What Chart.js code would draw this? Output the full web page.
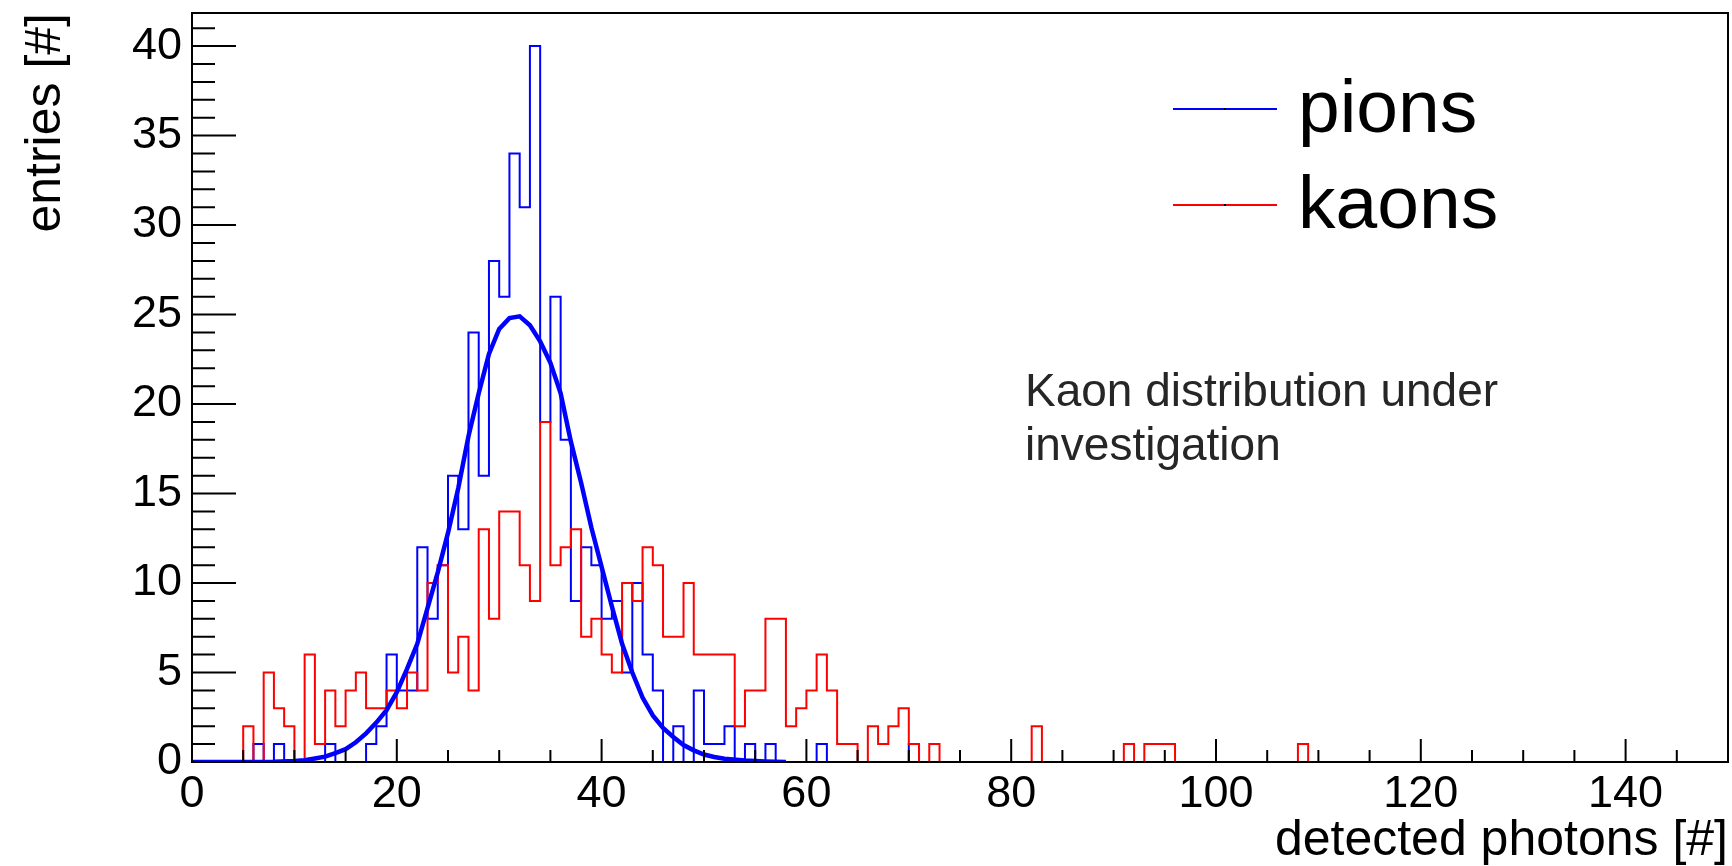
<!DOCTYPE html>
<html>
<head>
<meta charset="utf-8">
<script src="https://cdn.jsdelivr.net/npm/chart.js@4.4.1/dist/chart.umd.min.js"></script>
<style>
    html, body { margin: 0; padding: 0; background: #fff; }
    canvas { display: block; }
</style>
</head>
<body>
<canvas id="chart" width="1732" height="866"></canvas>
<script>
// histogram binning: 1 photon per bin, starting at 0
const binStart = 0;
const binWidth = 1;

// pions, bins 0..73
const pionCounts = [
    0, 0, 0, 0, 0, 0, 1, 0, 1, 0,
    0, 0, 0, 1, 0, 0, 0, 1, 2, 6,
    4, 4, 12, 8, 11, 16, 13, 24, 16, 28,
    26, 34, 31, 40, 19, 26, 18, 9, 12, 11,
    8, 9, 5, 10, 6, 4, 0, 2, 0, 4,
    1, 1, 2, 0, 1, 0, 1, 0, 0, 0,
    0, 1, 0, 0, 0, 0, 0, 0, 0, 0,
    1, 0, 0, 0
];

// kaons, bins 0..149
const kaonCounts = [
    0, 0, 0, 0, 0, 2, 0, 5, 3, 2,
    0, 6, 1, 4, 2, 4, 5, 3, 3, 4,
    3, 5, 4, 10, 11, 5, 7, 4, 13, 8,
    14, 14, 11, 9, 19, 11, 12, 13, 7, 8,
    6, 5, 10, 9, 12, 11, 7, 7, 10, 6,
    6, 6, 6, 2, 4, 4, 8, 8, 2, 3,
    4, 6, 4, 1, 1, 0, 2, 1, 2, 3,
    1, 0, 1, 0, 0, 0, 0, 0, 0, 0,
    0, 0, 2, 0, 0, 0, 0, 0, 0, 0,
    0, 1, 0, 1, 1, 1, 0, 0, 0, 0,
    0, 0, 0, 0, 0, 0, 0, 0, 1, 0,
    0, 0, 0, 0, 0, 0, 0, 0, 0, 0,
    0, 0, 0, 0, 0, 0, 0, 0, 0, 0,
    0, 0, 0, 0, 0, 0, 0, 0, 0, 0,
    0, 0, 0, 0, 0, 0, 0, 0, 0, 0
];

// gaussian fit on pions
const fitX = [0, 5, 8, 10, 11, 12, 13, 14, 15, 16, 17, 18, 19, 20, 21, 22, 23, 24, 25, 26, 27, 28, 29,
    30, 31, 32, 33, 34, 35, 36, 37, 38, 39, 40, 41, 42, 43, 44, 45, 46, 47, 48, 49, 50, 51, 52, 54, 56, 58];
const fitY = [0, 0, 0.02, 0.06, 0.1, 0.2, 0.3, 0.5, 0.72, 1.1, 1.6, 2.2, 2.9, 3.9, 5.2, 6.6, 8.6, 10.6, 12.8, 15.3, 18.2, 20.6, 22.8,
    24.2, 24.8, 24.9, 24.4, 23.5, 22.3, 20.6, 17.9, 15.6, 13.1, 10.9, 8.7, 6.6, 5.0, 3.6, 2.6, 1.9, 1.4, 0.95, 0.65, 0.42, 0.28, 0.18, 0.08, 0.03, 0];

const seriesNames = ["pions", "kaons"];
const xTickValues = [0, 20, 40, 60, 80, 100, 120, 140];
const yTickValues = [0, 5, 10, 15, 20, 25, 30, 35, 40];

const xMax = 150;
const yMax = 41.85;

const font = "'Liberation Sans', Arial, Helvetica, sans-serif";

// bin counts -> points for a stepped line (low edge of each bin + closing edge)
function histPoints(counts) {
    let pts = counts.map((c, i) => ({ x: binStart + i * binWidth, y: c }));
    pts.push({ x: binStart + counts.length * binWidth, y: counts[counts.length - 1] });
    return pts;
}

// ROOT style frame, inner ticks, legend and the note
const rootFrame = {
    id: 'rootFrame',
    afterDatasetsDraw(chart) {
        const { ctx, chartArea: a, scales: { x, y } } = chart;
        ctx.save();
        ctx.strokeStyle = '#000';
        ctx.lineWidth = 2;
        ctx.strokeRect(a.left, a.top, a.right - a.left, a.bottom - a.top);

        ctx.beginPath();
        for (let v = 0; v < xMax; v += 5) {
            let px = x.getPixelForValue(v);
            let len = v % 20 === 0 ? 23 : 12;
            ctx.moveTo(px, a.bottom);
            ctx.lineTo(px, a.bottom - len);
        }
        for (let v = 0; v <= Math.floor(yMax); v++) {
            let py = y.getPixelForValue(v);
            let len = v % 5 === 0 ? 44 : 23;
            ctx.moveTo(a.left, py);
            ctx.lineTo(a.left + len, py);
        }
        ctx.stroke();

        // legend
        const legendColors = ['#0000ff', '#ff0000'];
        const legendY = [109, 205];
        ctx.font = '75px ' + font;
        ctx.textBaseline = 'alphabetic';
        seriesNames.forEach((name, i) => {
            ctx.strokeStyle = legendColors[i];
            ctx.lineWidth = 2;
            ctx.beginPath();
            ctx.moveTo(1173, legendY[i]);
            ctx.lineTo(1277, legendY[i]);
            ctx.stroke();
            ctx.fillStyle = '#000';
            ctx.fillRect(1224, legendY[i] - 1, 2, 2);
            ctx.fillText(name, 1298, legendY[i] + 23);
        });

        // annotation
        ctx.fillStyle = '#262626';
        ctx.font = '46px ' + font;
        ctx.fillText('Kaon distribution under', 1025, 406);
        ctx.fillText('investigation', 1025, 460);
        ctx.restore();
    }
};

new Chart(document.getElementById('chart'), {
    type: 'line',
    data: {
        datasets: [
            {
                label: 'fit',
                data: fitX.map((v, i) => ({ x: v, y: fitY[i] })),
                borderColor: '#0000ff',
                borderWidth: 4.5,
                pointRadius: 0,
                order: 0
            },
            {
                label: seriesNames[1],
                data: histPoints(kaonCounts),
                stepped: 'before',
                borderColor: '#ff0000',
                borderWidth: 2,
                pointRadius: 0,
                order: 1
            },
            {
                label: seriesNames[0],
                data: histPoints(pionCounts),
                stepped: 'before',
                borderColor: '#0000ff',
                borderWidth: 2,
                pointRadius: 0,
                order: 2
            }
        ]
    },
    options: {
        responsive: false,
        animation: false,
        devicePixelRatio: 1,
        layout: { padding: { top: 13, right: 4, left: 0, bottom: 0 } },
        plugins: {
            legend: { display: false },
            tooltip: { enabled: false }
        },
        scales: {
            x: {
                type: 'linear',
                min: 0,
                max: xMax,
                grid: { display: false, drawTicks: false },
                border: { display: false },
                ticks: { padding: 6, color: '#000', maxRotation: 0, autoSkip: false, font: { family: font, size: 45 } },
                afterBuildTicks: (s) => { s.ticks = xTickValues.map(v => ({ value: v })); },
                afterFit: (s) => { s.height = 104; s.paddingLeft = 0; s.paddingRight = 0; },
                title: {
                    display: true,
                    text: 'detected photons [#]',
                    align: 'end',
                    color: '#000',
                    padding: 0,
                    font: { family: font, size: 50, lineHeight: 1 }
                }
            },
            y: {
                type: 'linear',
                min: 0,
                max: yMax,
                grid: { display: false, drawTicks: false },
                border: { display: false },
                ticks: { padding: 10, color: '#000', autoSkip: false, font: { family: font, size: 45 } },
                afterBuildTicks: (s) => { s.ticks = yTickValues.map(v => ({ value: v })); },
                afterFit: (s) => { s.width = 192; s.paddingTop = 0; s.paddingBottom = 0; },
                title: {
                    display: true,
                    text: 'entries [#]',
                    align: 'end',
                    color: '#000',
                    padding: { top: 21, bottom: 0 },
                    font: { family: font, size: 50, lineHeight: 1 }
                }
            }
        }
    },
    plugins: [rootFrame]
});
</script>
</body>
</html>
